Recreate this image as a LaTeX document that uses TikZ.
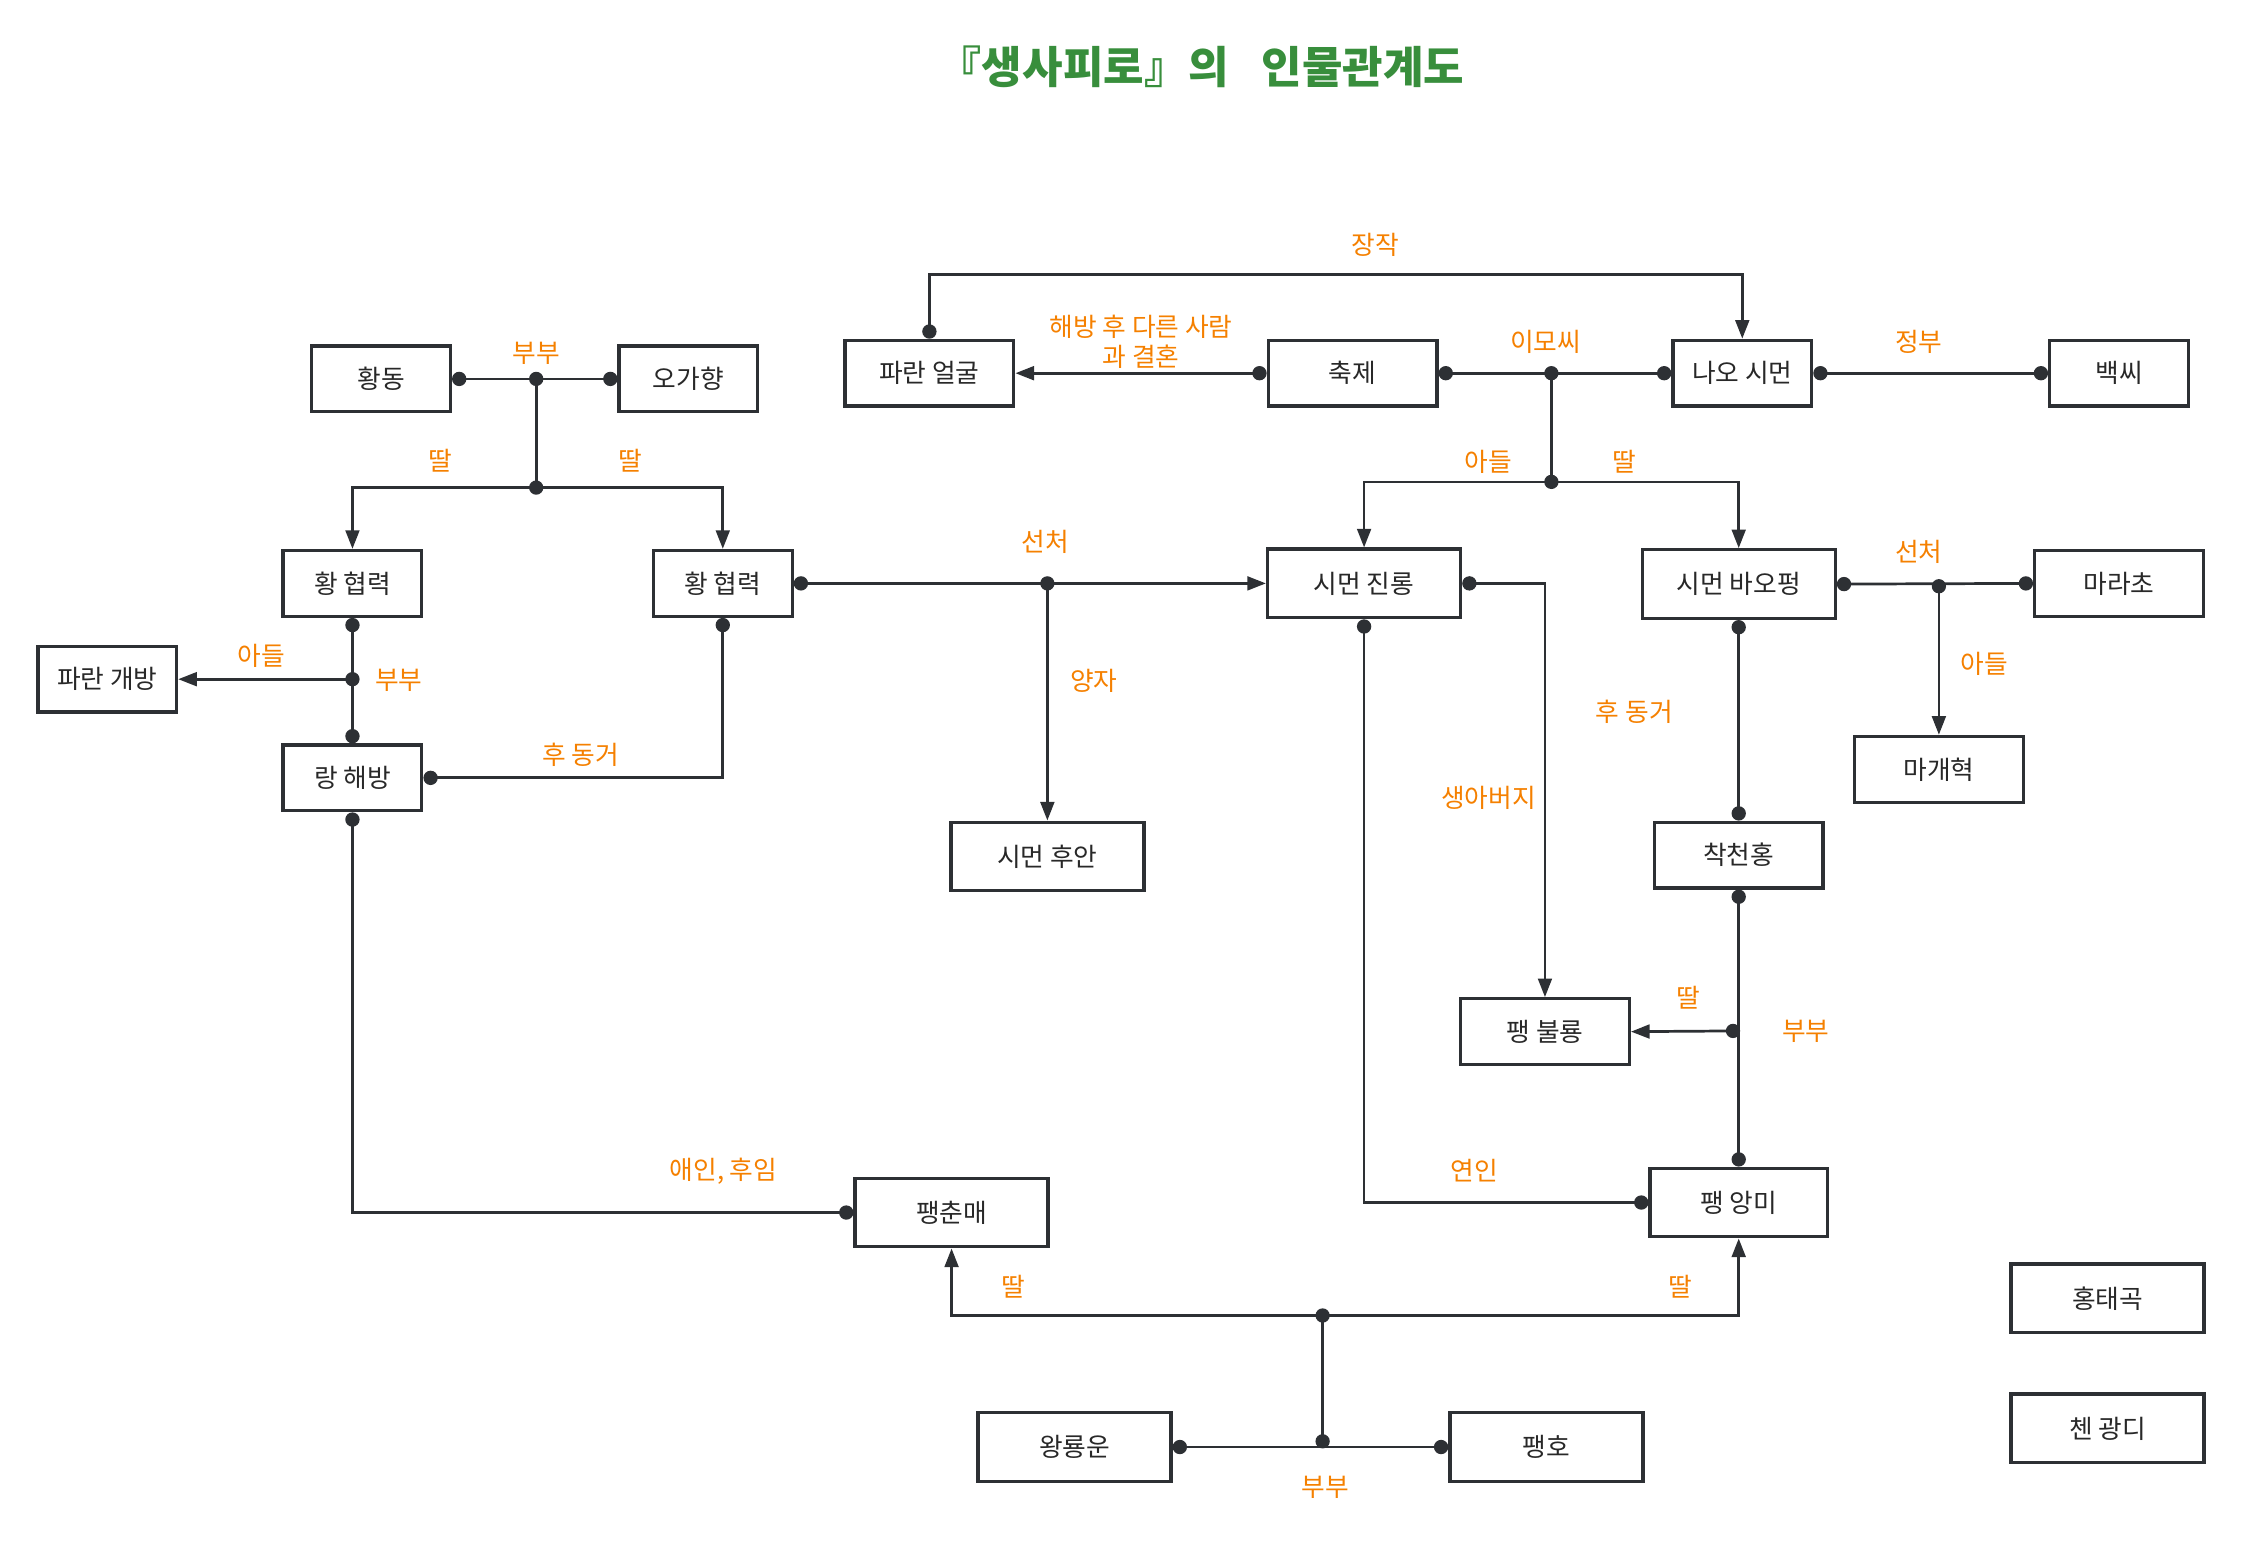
\documentclass[tikz,border=0pt]{standalone}
\usepackage{fontspec}
\setmainfont{Noto Sans CJK KR}
\usetikzlibrary{arrows.meta,calc}
\definecolor{lbl}{RGB}{245,128,0}
\definecolor{ttl}{RGB}{56,142,60}
\definecolor{ln}{RGB}{45,48,52}
\definecolor{txt}{RGB}{40,40,40}
\begin{document}
\begin{tikzpicture}[x=0.5pt,y=-0.5pt,
  box/.style={draw=ln, line width=1.15pt, fill=white, inner sep=0pt, text=txt, font=\fontsize{9}{11}\selectfont},
  bsm/.style={box, minimum width=48.5pt, minimum height=23pt},
  bmd/.style={box, minimum width=59pt, minimum height=23pt},
  blg/.style={box, minimum width=67.5pt, minimum height=24pt},
  lab/.style={text=lbl, inner sep=0pt, font=\fontsize{9}{10.5}\selectfont},
  conn/.style={draw=ln, line width=0.95pt},
  dd/.style={conn, {Circle[length=5pt]}-{Circle[length=5pt]}},
  da/.style={conn, {Circle[length=5pt]}-{Triangle[length=6.5pt,width=4.8pt]}},
  ar/.style={conn, -{Triangle[length=6.5pt,width=4.8pt]}},
  jd/.style={circle, fill=ln, inner sep=0pt, minimum size=5pt}
]
\useasboundingbox (0,0) rectangle (1568,1083);

% title
\node[text=ttl, font=\fontsize{15.4}{17}\selectfont\bfseries] (title) at (840,47) {『생사피로』의\hspace{0.75em}인물관계도};

% boxes
\node[bsm] (hd) at (266.5,265) {황동};
\node[bsm] (ogh) at (481.5,265) {오가향};
\node[bmd] (pao) at (650,261) {파란 얼굴};
\node[bmd] (cj) at (946,261) {축제};
\node[bsm] (nao) at (1218.5,261) {나오 시먼};
\node[bsm] (bsn) at (1482,261) {백씨};
\node[bsm] (hx1) at (246.5,408) {황 협력};
\node[bsm] (hx2) at (505.5,408) {황 협력};
\node[blg] (sjl) at (954,408) {시먼 진롱};
\node[blg] (sbp) at (1216,408.5) {시먼 바오펑};
\node[bmd] (mrc) at (1482,408) {마라초};
\node[bsm] (pkb) at (75,475) {파란 개방};
\node[bsm] (lhb) at (246.5,544) {랑 해방};
\node[bmd] (mgh) at (1356,538) {마개혁};
\node[blg] (sha) at (732.5,599) {시먼 후안};
\node[bmd] (cch) at (1216,598) {착천홍};
\node[bmd] (pbr) at (1080.5,721.5) {팽 불룡};
\node[blg] (pcm) at (665.5,848) {팽춘매};
\node[blg, minimum width=62pt] (pam) at (1216,841) {팽 앙미};
\node[blg] (htg) at (1474,908) {홍태곡};
\node[blg] (cgd) at (1474,999) {첸 광디};
\node[blg] (wry) at (751.5,1012) {왕룡운};
\node[blg] (ph) at (1081.5,1012) {팽호};

% junction dots
\node[jd] (j1) at (375,265) {};
\node[jd] (j2) at (375,341) {};
\node[jd] (j3) at (246.5,475) {};
\node[jd] (j4) at (732.5,408) {};
\node[jd] (j5) at (1085,261) {};
\node[jd] (j6) at (1085,337) {};
\node[jd] (j7) at (1356,410) {};
\node[jd] (j8) at (1212,721) {};
\node[jd] (j9) at (925,1008) {};
\node[jd] (j10) at (925,920) {};

% connectors
\draw[dd] (hd.east) -- (ogh.west);
\draw[conn] (j1.center) -- (j2.center);
\draw[ar] (j2.center) -| (hx1.north);
\draw[ar] (j2.center) -| (hx2.north);

\draw[dd] (hx1.south) -- (lhb.north);
\draw[ar] (j3.center) -- (pkb.east);
\draw[dd] (hx2.south) |- (lhb.east);

\draw[da] (hx2.east) -- (sjl.west);
\draw[ar] (j4.center) -- (sha.north);

\draw[da] (cj.west) -- (pao.east);
\draw[da] (pao.north) -- ++(0,-45) -| (nao.north);

\draw[dd] (cj.east) -- (nao.west);
\draw[conn] (j5.center) -- (j6.center);
\draw[ar] (j6.center) -| (sjl.north);
\draw[ar] (j6.center) -| (sbp.north);

\draw[dd] (nao.east) -- (bsn.west);

\draw[dd] (sbp.east) -- (mrc.west);
\draw[ar] (j7.center) -- (mgh.north);

\draw[dd] (sbp.south) -- (cch.north);
\draw[da] (sjl.east) -| (pbr.north);

\draw[dd] (cch.south) -- (pam.north);
\draw[ar] (j8.center) -- (pbr.east);

\draw[dd] (sjl.south) |- (pam.west);
\draw[dd] (lhb.south) |- (pcm.west);

\draw[dd] (wry.east) -- (ph.west);
\draw[conn] (j9.center) -- (j10.center);
\draw[ar] (j10.center) -| (pcm.south);
\draw[ar] (j10.center) -| (pam.south);

% labels
\node[lab] (l1) at (962,171) {장작};
\node[lab, align=center] (l2) at (798,239) {해방 후 다른 사람\\과 결혼};
\node[lab] (l3) at (1081,239) {이모씨};
\node[lab] (l4) at (1342,239) {정부};
\node[lab] (l5) at (375,247) {부부};
\node[lab] (l6) at (308,322) {딸};
\node[lab] (l7) at (441,322) {딸};
\node[lab] (l8) at (1041,323) {아들};
\node[lab] (l9) at (1136,323) {딸};
\node[lab] (l10) at (731,379) {선처};
\node[lab] (l11) at (1342,386) {선처};
\node[lab] (l12) at (183,459) {아들};
\node[lab] (l13) at (279,476) {부부};
\node[lab] (l14) at (765,476) {양자};
\node[lab] (l15) at (1388,464) {아들};
\node[lab] (l16) at (1143,498) {후 동거};
\node[lab] (l17) at (406,528) {후 동거};
\node[lab] (l18) at (1041,558) {생아버지};
\node[lab] (l19) at (1181,698) {딸};
\node[lab] (l20) at (1263,721) {부부};
\node[lab] (l21) at (506,819) {애인, 후임};
\node[lab] (l22) at (1031,819) {연인};
\node[lab] (l23) at (709,900) {딸};
\node[lab] (l24) at (1175,900) {딸};
\node[lab] (l25) at (927,1040) {부부};
\end{tikzpicture}
\end{document}
